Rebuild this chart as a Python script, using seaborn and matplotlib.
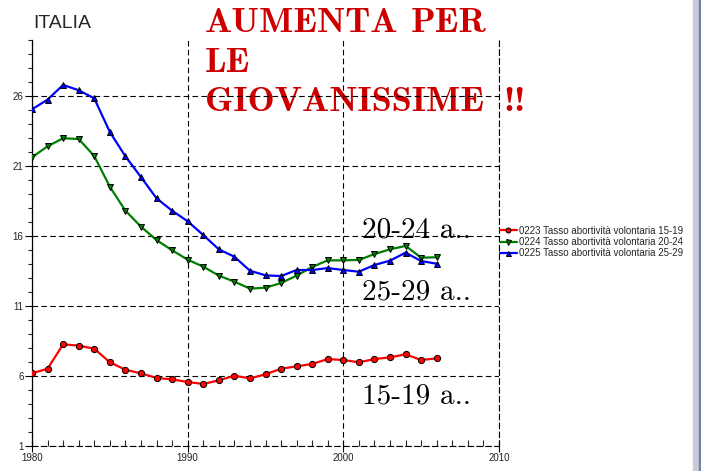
import numpy as np
import pandas as pd
import seaborn as sns
import matplotlib.pyplot as plt
from matplotlib.patches import Rectangle

# dati (tasso di abortività volontaria, Italia)
anni = [1980, 1981, 1982, 1983, 1984, 1985, 1986, 1987, 1988, 1989,
        1990, 1991, 1992, 1993, 1994, 1995, 1996, 1997, 1998, 1999,
        2000, 2001, 2002, 2003, 2004, 2005, 2006]
tasso_15_19 = [6.19, 6.52, 8.26, 8.17, 7.95, 6.98, 6.45, 6.19, 5.86, 5.76,
               5.57, 5.43, 5.69, 6.02, 5.83, 6.12, 6.52, 6.69, 6.86, 7.21,
               7.14, 6.98, 7.21, 7.33, 7.55, 7.14, 7.26]
tasso_20_24 = [21.62, 22.41, 22.98, 22.93, 21.71, 19.52, 17.81, 16.67, 15.71, 14.98,
               14.31, 13.81, 13.17, 12.74, 12.24, 12.31, 12.64, 13.17, 13.79, 14.26,
               14.26, 14.29, 14.71, 15.05, 15.29, 14.45, 14.48]
tasso_25_29 = [25.05, 25.74, 26.79, 26.41, 25.83, 23.43, 21.69, 20.21, 18.69, 17.81,
               17.05, 16.07, 15.05, 14.52, 13.52, 13.19, 13.14, 13.57, 13.57, 13.71,
               13.57, 13.45, 13.93, 14.24, 14.81, 14.21, 14.02]
etichette = ['0223 Tasso abortività volontaria 15-19',
             '0224 Tasso abortività volontaria 20-24',
             '0225 Tasso abortività volontaria 25-29']
yticks = [1, 6, 11, 16, 21, 26]
xticks = [1980, 1990, 2000, 2010]

sns.set_style('ticks')
plt.rcParams['font.family'] = ['Liberation Sans', 'DejaVu Sans']

df = pd.DataFrame({'anno': anni, 'a': tasso_15_19, 'b': tasso_20_24, 'c': tasso_25_29})

fig = plt.figure(figsize=(7.01, 4.71), dpi=100)
ax = fig.add_axes([32 / 701, 25 / 471, 467 / 701, 406 / 471])

serie = [('a', '#ff0000', 'o'), ('b', '#008000', 'v'), ('c', '#0000ff', '^')]
for (col, colore, marc), lab in zip(serie, etichette):
    sns.lineplot(data=df, x='anno', y=col, ax=ax, color=colore, lw=1.6,
                 marker=marc, markersize=4.5, markerfacecolor=colore,
                 markeredgecolor='black', markeredgewidth=0.7, label=lab, zorder=3)
handles, labels = ax.get_legend_handles_labels()
ax.get_legend().remove()

ax.set_xlim(1980, 2010)
ax.set_ylim(1, 30)
ax.set_xticks(xticks)
ax.set_yticks(yticks)
ax.set_xticks(np.arange(1980, 2011, 1), minor=True)
ax.set_yticks(np.arange(1, 31, 1), minor=True)
ax.set_xlabel('')
ax.set_ylabel('')
ax.tick_params(axis='both', which='major', labelsize=7, color='black', width=0.8,
               labelcolor='#222222')
ax.tick_params(axis='x', which='major', direction='inout', length=8, pad=1)
ax.tick_params(axis='x', which='minor', direction='in', length=4, width=0.8)
ax.tick_params(axis='y', which='major', direction='out', length=5, pad=1)
ax.tick_params(axis='y', which='minor', direction='out', length=3, width=0.8)

ax.set_axisbelow(False)
ax.grid(True, which='major', color='black', ls=(0, (5, 3)), lw=0.8, zorder=2.5)
ax.spines['top'].set_visible(False)
ax.spines['left'].set_color('black')
ax.spines['left'].set_linewidth(0.9)
ax.spines['bottom'].set_color('black')
ax.spines['bottom'].set_linestyle((0, (5, 3)))
ax.spines['right'].set_color('black')
ax.spines['right'].set_linestyle((0, (5, 3)))
ax.spines['right'].set_linewidth(0.8)

# testi
fig.text(33 / 701, 1 - 28 / 471, 'ITALIA', fontsize=14, va='baseline')
titolo = [('AUMENTA', 205, 32), ('PER', 411, 32), ('LE', 205, 72),
          ('GIOVANISSIME', 205, 111), ('!!', 503, 111)]
for parola, xs, yb in titolo:
    ax.text(xs / 701, 1 - yb / 471, parola, transform=fig.transFigure,
            fontfamily='cmb10', fontsize=26, color='#cc0000', va='baseline', zorder=1)
for et, yb in zip(['20-24 a..', '25-29 a..', '15-19 a..'], [237, 299, 403]):
    ax.text(362 / 701, 1 - yb / 471, et, transform=fig.transFigure,
            fontfamily='cmr10', fontsize=21, color='black', va='baseline', zorder=1)

fig.legend(handles, labels, loc='center left', bbox_to_anchor=(500 / 701, 1 - 242 / 471),
           frameon=False, fontsize=7, handlelength=1.7, handletextpad=0.3,
           labelspacing=0.15, borderpad=0, borderaxespad=0, markerscale=0.8)

# bordo della slide
fig.patches.append(Rectangle((693 / 701, 0), 8 / 701, 1, transform=fig.transFigure,
                             color='#c9cbd9', zorder=0))
fig.patches.append(Rectangle((699 / 701, 0), 2 / 701, 1, transform=fig.transFigure,
                             color='#7880a8', zorder=0))

fig.savefig('out.png', dpi=100)
